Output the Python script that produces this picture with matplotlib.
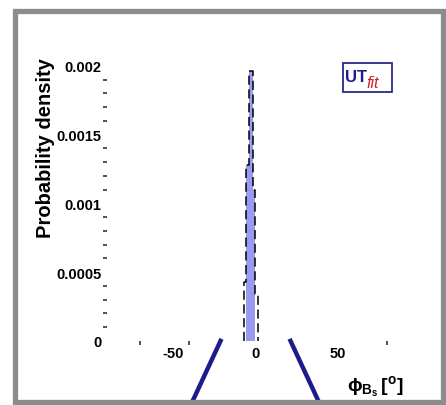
import numpy as np
import matplotlib.pyplot as plt
from matplotlib.patches import Rectangle
from matplotlib.ticker import MultipleLocator, FixedLocator

plt.rcParams['font.family'] = ['Liberation Sans', 'DejaVu Sans']
plt.rcParams['mathtext.fontset'] = 'custom'
plt.rcParams['mathtext.rm'] = 'Liberation Sans:bold'
plt.rcParams['mathtext.it'] = 'Liberation Sans:bold'
plt.rcParams['mathtext.bf'] = 'Liberation Sans:bold'

# phi_Bs histogram (degrees) and probability density per bin
bin_edges = [-7.0, -5.5, -3.5, -1.5, 0.0, 1.8]
density = [0.00043, 0.00128, 0.00196, 0.00110, 0.00034]
# bins covered by the shaded 68% region
shaded_bins = [1, 2, 3]

# edges of the zoom cone below the axis (degrees)
cone_left = -21.0
cone_right = 21.5

x_ticks = [-50, 0, 50]
y_ticks = [0, 0.0005, 0.001, 0.0015, 0.002]
y_tick_labels = ['0', '0.0005', '0.001', '0.0015', '0.002']

fig = plt.figure(figsize=(4.46, 4.06), dpi=100)
ax = fig.add_axes([0.240, 0.158, 0.664, 0.677])

edges = np.array(bin_edges)
heights = np.array(density)

# shaded central region
for i in shaded_bins:
    ax.fill_between([edges[i], edges[i + 1]], 0, heights[i],
                    color='#9a9af0', linewidth=0, zorder=2)

# dashed outline of the full histogram
step_x = np.repeat(edges, 2)
step_y = np.concatenate([[0], np.repeat(heights, 2), [0]])
ax.plot(step_x, step_y, color='black', linestyle=(0, (6, 3)), linewidth=1.1, zorder=3)

ax.set_xlim(-90, 90)
ax.set_ylim(0, 0.002)

for s in ax.spines.values():
    s.set_visible(False)

ax.set_xticks(x_ticks)
ax.set_xticklabels([str(v) for v in x_ticks])
ax.set_yticks(y_ticks)
ax.set_yticklabels(y_tick_labels)
ax.xaxis.set_minor_locator(FixedLocator([-70, -40, 50, 80]))
ax.yaxis.set_minor_locator(MultipleLocator(0.0001))
ax.tick_params(axis='both', which='major', length=0, labelsize=10.5, pad=4)
ax.tick_params(axis='both', which='minor', length=3, width=1.2, color='#333333')
for lab in ax.get_xticklabels() + ax.get_yticklabels():
    lab.set_fontweight('bold')

ax.set_ylabel('Probability density', fontsize=14.5, fontweight='bold')
ax.yaxis.set_label_coords(-0.175, 0.705)

ax.text(1.0, -0.165, r'$\phi_{B_s}\,[^o]$', transform=ax.transAxes,
        ha='right', va='center', fontsize=14, fontweight='bold')

# zoom cone lines going down from the axis
ax.plot([cone_left, cone_left - 19], [0, -0.00049], color='#1c1c8c',
        linewidth=3.2, clip_on=False, zorder=4)
ax.plot([cone_right, cone_right + 19], [0, -0.00049], color='#1c1c8c',
        linewidth=3.2, clip_on=False, zorder=4)

# UTfit logo
fig.patches.append(Rectangle((343 / 446, 1 - 93 / 406), 49 / 446, 29 / 406,
                             transform=fig.transFigure, facecolor='white',
                             edgecolor='#2a2a8a', linewidth=1.3))
fig.text(345 / 446, 1 - 77 / 406, 'UT', color='#1c1c8c', fontsize=12,
         fontweight='bold', ha='left', va='center')
fig.text(366 / 446, 1 - 84 / 406, 'fit', color='#cc2222', fontsize=11.5,
         style='italic', ha='left', va='center')

# outer frame
fig.patches.append(Rectangle((15 / 446, 3 / 406), 428 / 446, 391 / 406,
                             transform=fig.transFigure, facecolor='none',
                             edgecolor='#8c8c8c', linewidth=3.8, zorder=10))

fig.savefig('out.png', dpi=100)
